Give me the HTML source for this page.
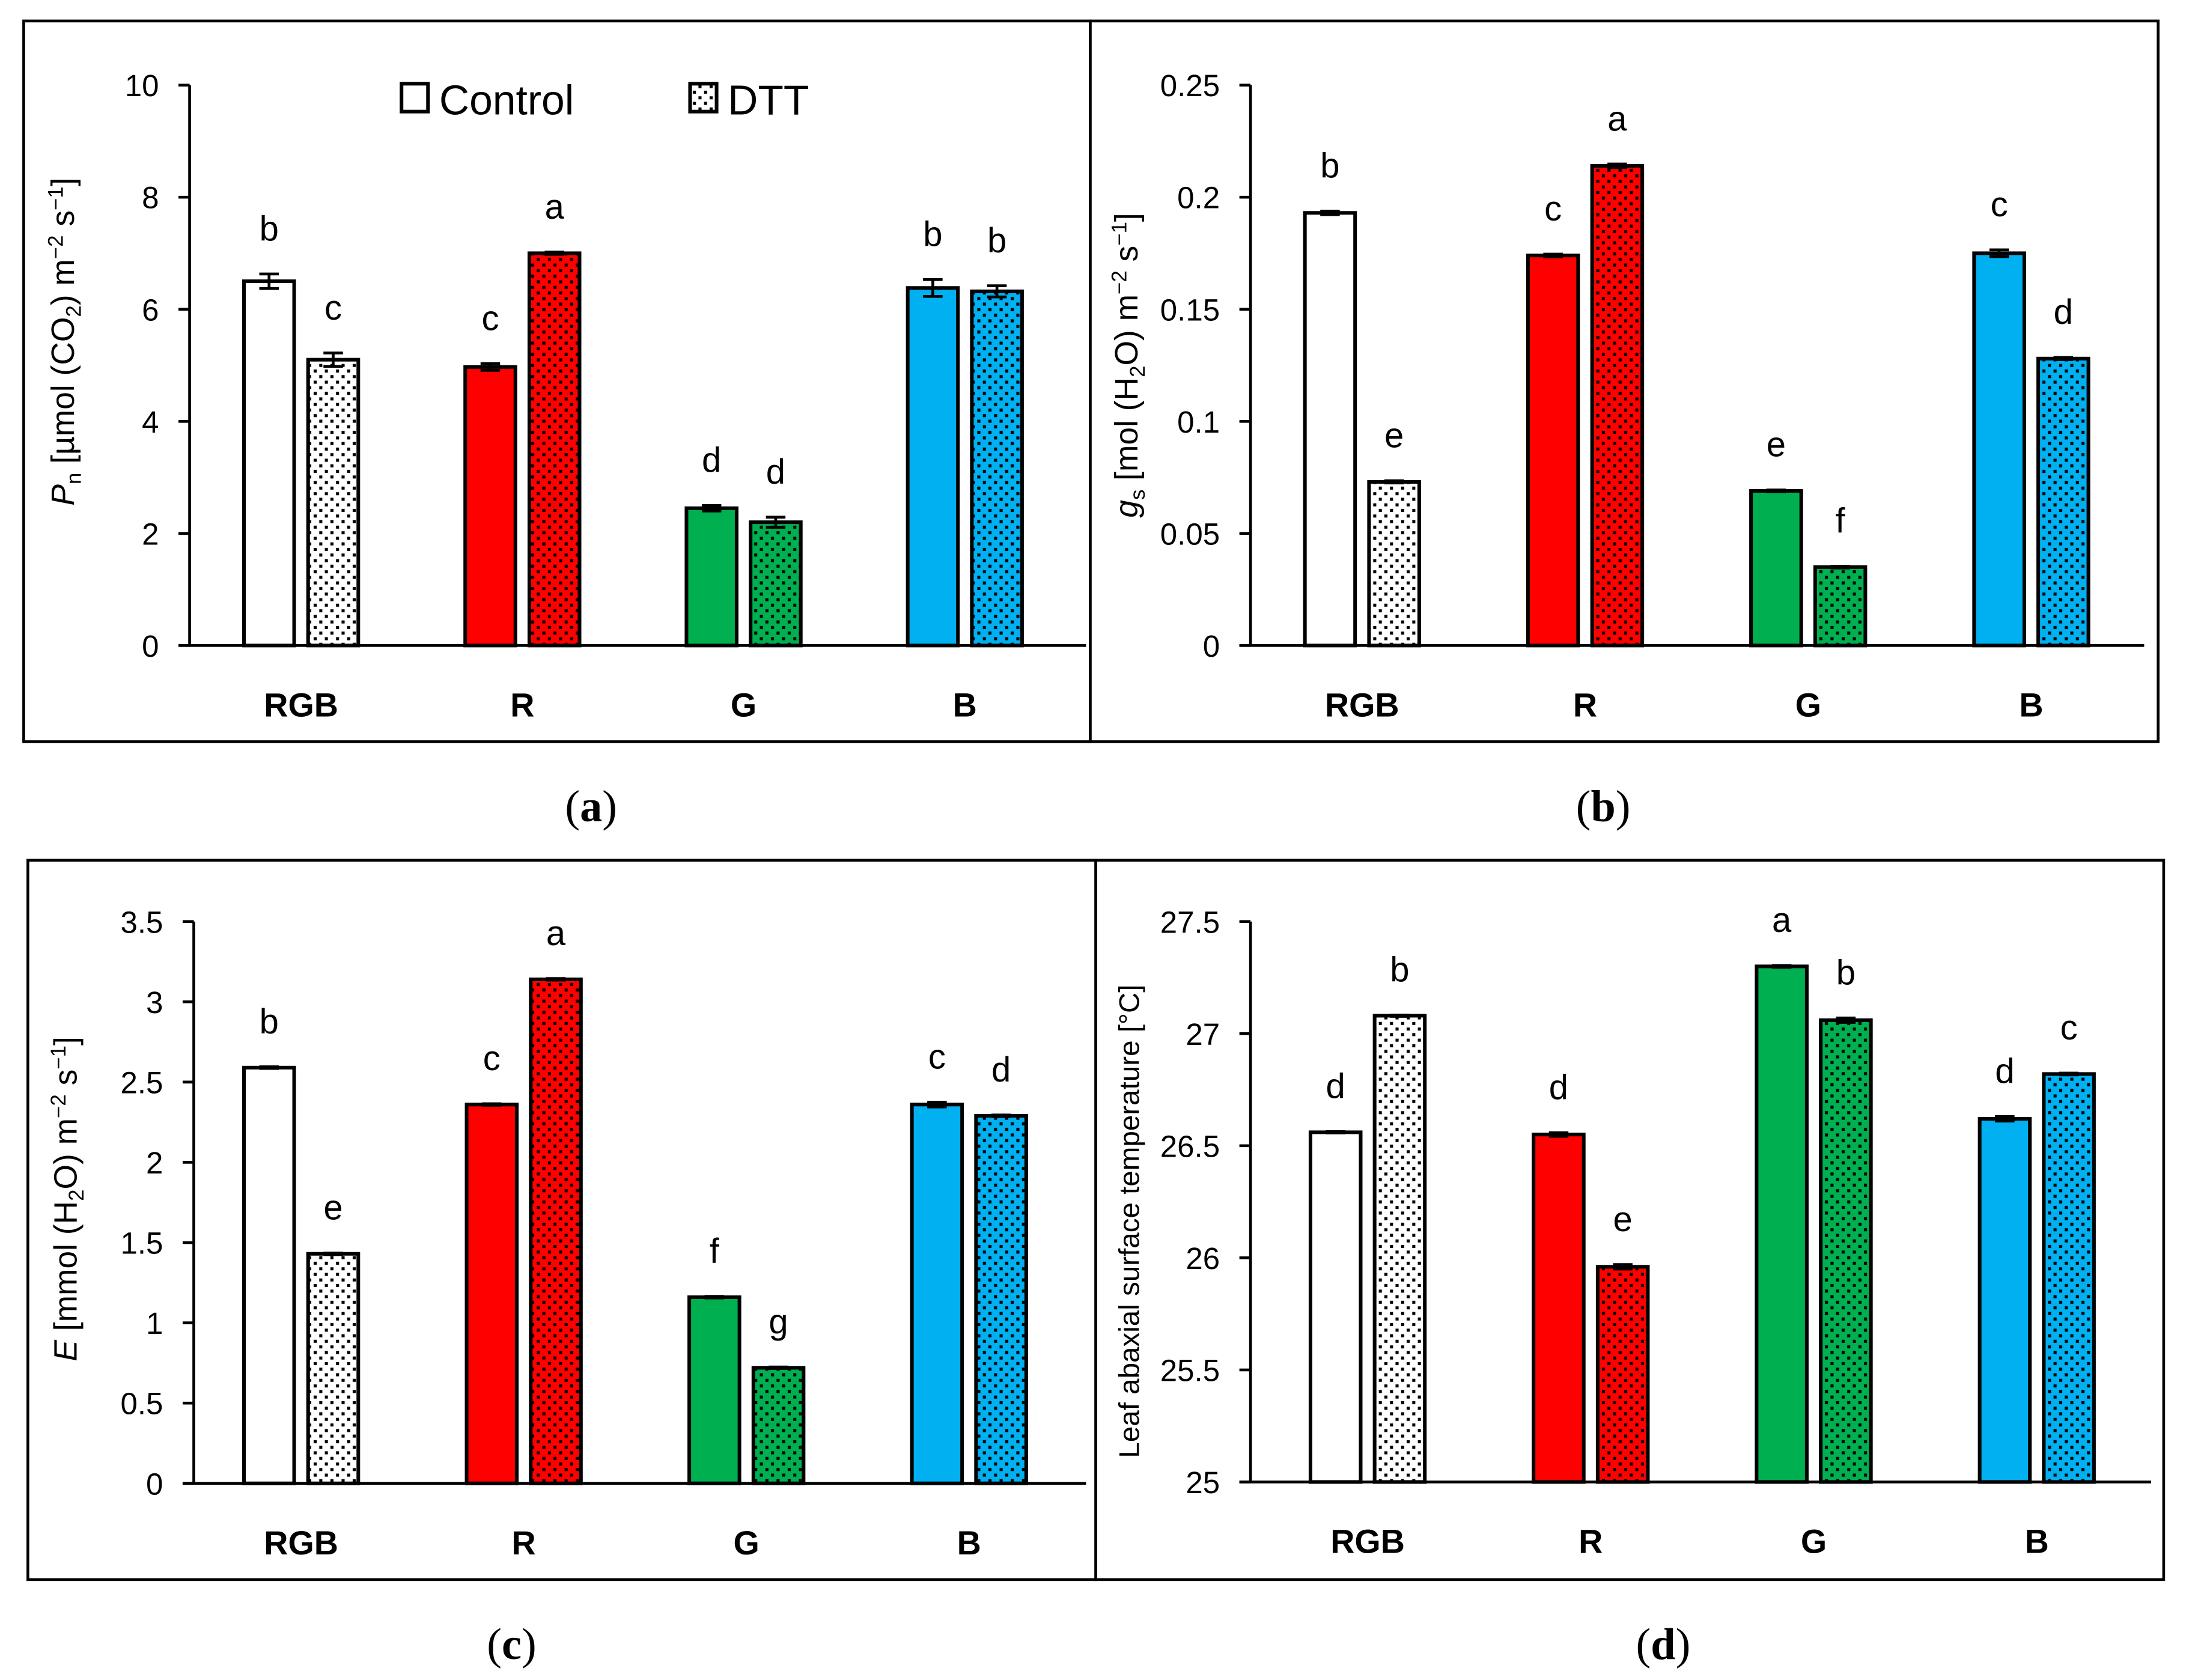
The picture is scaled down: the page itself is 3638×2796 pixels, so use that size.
<!DOCTYPE html>
<html><head><meta charset="utf-8"><style>
html,body{margin:0;padding:0;background:#fff}
svg{display:block}
text{font-family:"Liberation Sans",sans-serif}
text.serif{font-family:"Liberation Serif",serif}
</style></head><body>
<svg id="fig" width="3638" height="2796" viewBox="0 0 1568 1205" xmlns="http://www.w3.org/2000/svg">
<defs>
<pattern id="dots-white" width="8" height="8" patternUnits="userSpaceOnUse"><rect width="8" height="8" fill="#fff"/><rect x="1" y="1" width="2.2" height="2.2" fill="#000"/><rect x="5" y="5" width="2.2" height="2.2" fill="#000"/></pattern>
<pattern id="dots-red" width="8" height="8" patternUnits="userSpaceOnUse"><rect width="8" height="8" fill="#FF0000"/><rect x="1" y="1" width="2.2" height="2.2" fill="#000"/><rect x="5" y="5" width="2.2" height="2.2" fill="#000"/></pattern>
<pattern id="dots-green" width="8" height="8" patternUnits="userSpaceOnUse"><rect width="8" height="8" fill="#00B050"/><rect x="1" y="1" width="2.2" height="2.2" fill="#000"/><rect x="5" y="5" width="2.2" height="2.2" fill="#000"/></pattern>
<pattern id="dots-blue" width="8" height="8" patternUnits="userSpaceOnUse"><rect width="8" height="8" fill="#00B0F0"/><rect x="1" y="1" width="2.2" height="2.2" fill="#000"/><rect x="5" y="5" width="2.2" height="2.2" fill="#000"/></pattern>
</defs>
<g id="root"></g>
</svg>
<script>
const categories = ["RGB","R","G","B"];
const pnControl = [6.5, 4.97, 2.45, 6.38];
const pnDTT = [5.1, 7.0, 2.2, 6.32];
const pnErrC = [0.13, 0.06, 0.05, 0.15];
const pnErrD = [0.12, 0.02, 0.09, 0.1];
const pnLetC = ["b","c","d","b"];
const pnLetD = ["c","a","d","b"];
const pnTicks = [0,2,4,6,8,10];

const gsControl = [0.193, 0.174, 0.069, 0.175];
const gsDTT = [0.073, 0.214, 0.035, 0.128];
const gsErrC = [0.0008, 0.0006, 0.0004, 0.0015];
const gsErrD = [0.0005, 0.0008, 0.0004, 0.0005];
const gsLetC = ["b","c","e","c"];
const gsLetD = ["e","a","f","d"];
const gsTicks = [0,0.05,0.1,0.15,0.2,0.25];

const eControl = [2.59, 2.36, 1.16, 2.36];
const eDTT = [1.43, 3.14, 0.72, 2.29];
const eErrC = [0.005, 0.005, 0.005, 0.015];
const eErrD = [0.005, 0.005, 0.005, 0.005];
const eLetC = ["b","c","f","c"];
const eLetD = ["e","a","g","d"];
const eTicks = [0,0.5,1,1.5,2,2.5,3,3.5];

const tControl = [26.56, 26.55, 27.30, 26.62];
const tDTT = [27.08, 25.96, 27.06, 26.82];
const tErrC = [0.003, 0.008, 0.004, 0.01];
const tErrD = [0.003, 0.01, 0.01, 0.004];
const tLetC = ["d","d","a","d"];
const tLetD = ["b","e","b","c"];
const tTicks = [25,25.5,26,26.5,27,27.5];

const SOLID = ["#ffffff","#FF0000","#00B050","#00B0F0"];
const DOTS = ["url(#dots-white)","url(#dots-red)","url(#dots-green)","url(#dots-blue)"];
const NS = "http://www.w3.org/2000/svg";
const root = document.getElementById("root");

function mk(tag, attrs, parent, txt){
  const e = document.createElementNS(NS, tag);
  for (const k in attrs) e.setAttribute(k, attrs[k]);
  if (txt !== undefined) e.textContent = txt;
  (parent || root).appendChild(e);
  return e;
}

function panel(cfg){
  const g = mk("g", {});
  
  
  const fr = mk("rect", {x:cfg.box[0], y:cfg.box[1], width:cfg.box[2], height:cfg.box[3], fill:"none", stroke:"#000", "stroke-width":2}, g);
  
  
  const min = cfg.ticks[0], max = cfg.ticks[cfg.ticks.length-1];
  const yS = v => cfg.y0 - (v - min) / (max - min) * (cfg.y0 - cfg.y1);
  const xS = i => cfg.cx0 + i * cfg.step;
  for (let i = 0; i < categories.length; i++){
    const series = [[cfg.ctrl, cfg.errC, cfg.letC, SOLID[i], -23, 'control'], [cfg.dtt, cfg.errD, cfg.letD, DOTS[i], 23, 'dtt']];
    for (const s of series){
      const v = s[0][i], cx = xS(i) + s[4], top = yS(v);
      const b = mk("rect", {x:cx-18, y:top, width:36, height:cfg.y0-top, fill:s[3], stroke:"#000", "stroke-width":2.6}, g);
      
      
      const eh = yS(v + s[1][i]), el = yS(v - s[1][i]);
      const eb = mk("path", {d:`M${cx-7},${eh}H${cx+7}M${cx},${eh}V${el}M${cx-7},${el}H${cx+7}`, stroke:"#000", "stroke-width":2, fill:"none"}, g);
      
      
      const lt = mk("text", {x:cx, y:eh-24, "text-anchor":"middle", "font-size":25}, g, s[2][i]);
      
      
    }
    const cl = mk("text", {x:xS(i), y:cfg.y0+51, "text-anchor":"middle", "font-size":24, "font-weight":"bold"}, g, categories[i]);
    
    
  }
  const ya = mk("line", {x1:cfg.ax, y1:cfg.y1, x2:cfg.ax, y2:cfg.y0, stroke:"#000", "stroke-width":2}, g);
  
  
  const xa = mk("line", {x1:cfg.ax-8, y1:cfg.y0, x2:cfg.xEnd, y2:cfg.y0, stroke:"#000", "stroke-width":2}, g);
  
  
  for (const t of cfg.ticks){
    const y = yS(t);
    const tk = mk("line", {x1:cfg.ax-8, y1:y, x2:cfg.ax, y2:y, stroke:"#000", "stroke-width":2}, g);
    
    
    const tl = mk("text", {x:cfg.ax-22, y:y+8, "text-anchor":"end", "font-size":22}, g, String(t));
    
    
  }
  const yt = mk("text", {transform:`translate(${cfg.tx},${cfg.ty}) rotate(-90)`, "text-anchor":"middle", "font-size":cfg.tfs || 23}, g);
  
  
  yt.innerHTML = cfg.title;
  const cap = mk("text", {x:cfg.cap[0], y:cfg.cap[1], "text-anchor":"middle", "font-size":32, "class":"serif"}, g);
  
  
  cap.innerHTML = `(<tspan font-weight="bold">${cfg.letter}</tspan>)`;
  return g;
}

panel({name:"panel-a", box:[17,15,765,517], ax:136, y0:463, y1:61, xEnd:779, cx0:216, step:158.7,
  ticks:pnTicks, ctrl:pnControl, dtt:pnDTT, errC:pnErrC, errD:pnErrD, letC:pnLetC, letD:pnLetD,
  tx:53, ty:245, title:'<tspan font-style="italic">P</tspan><tspan font-size="15" dy="5">n</tspan><tspan dy="-5"> [µmol (CO</tspan><tspan font-size="15" dy="5">2</tspan><tspan dy="-5">) m</tspan><tspan font-size="15" dy="-8">−2</tspan><tspan dy="8"> s</tspan><tspan font-size="15" dy="-8">−1</tspan><tspan dy="8">]</tspan>',
  cap:[424,589], letter:"a"});
panel({name:"panel-b", box:[782,15,766,517], ax:897, y0:463, y1:61, xEnd:1538, cx0:977, step:160,
  ticks:gsTicks, ctrl:gsControl, dtt:gsDTT, errC:gsErrC, errD:gsErrD, letC:gsLetC, letD:gsLetD,
  tx:816, ty:262, title:'<tspan font-style="italic">g</tspan><tspan font-size="15" dy="5">s</tspan><tspan dy="-5"> [mol (H</tspan><tspan font-size="15" dy="5">2</tspan><tspan dy="-5">O) m</tspan><tspan font-size="15" dy="-8">−2</tspan><tspan dy="8"> s</tspan><tspan font-size="15" dy="-8">−1</tspan><tspan dy="8">]</tspan>',
  cap:[1150,589], letter:"b"});
panel({name:"panel-c", box:[20,617,766,516], ax:139, y0:1064, y1:661, xEnd:779, cx0:216, step:159.7,
  ticks:eTicks, ctrl:eControl, dtt:eDTT, errC:eErrC, errD:eErrD, letC:eLetC, letD:eLetD,
  tx:55, ty:860, title:'<tspan font-style="italic">E</tspan><tspan> [mmol (H</tspan><tspan font-size="15" dy="5">2</tspan><tspan dy="-5">O) m</tspan><tspan font-size="15" dy="-8">−2</tspan><tspan dy="8"> s</tspan><tspan font-size="15" dy="-8">−1</tspan><tspan dy="8">]</tspan>',
  cap:[367,1190], letter:"c"});
panel({name:"panel-d", box:[786,617,766,516], ax:897, y0:1063, y1:661, xEnd:1543, cx0:981, step:160,
  ticks:tTicks, ctrl:tControl, dtt:tDTT, errC:tErrC, errD:tErrD, letC:tLetC, letD:tLetD,
  tx:817, ty:876, tfs:20.5, title:'Leaf abaxial surface temperature [°C]',
  cap:[1193,1190], letter:"d"});

const lg = mk("g", {});


const l1 = mk("rect", {x:288, y:60, width:19, height:20, fill:"#fff", stroke:"#000", "stroke-width":2.6}, lg);


const t1 = mk("text", {x:315, y:82, "font-size":30}, lg, "Control");


const l2 = mk("rect", {x:495, y:60, width:19, height:20, fill:"url(#dots-white)", stroke:"#000", "stroke-width":2.6}, lg);


const t2 = mk("text", {x:522, y:82, "font-size":30}, lg, "DTT");


</script>
</body></html>
